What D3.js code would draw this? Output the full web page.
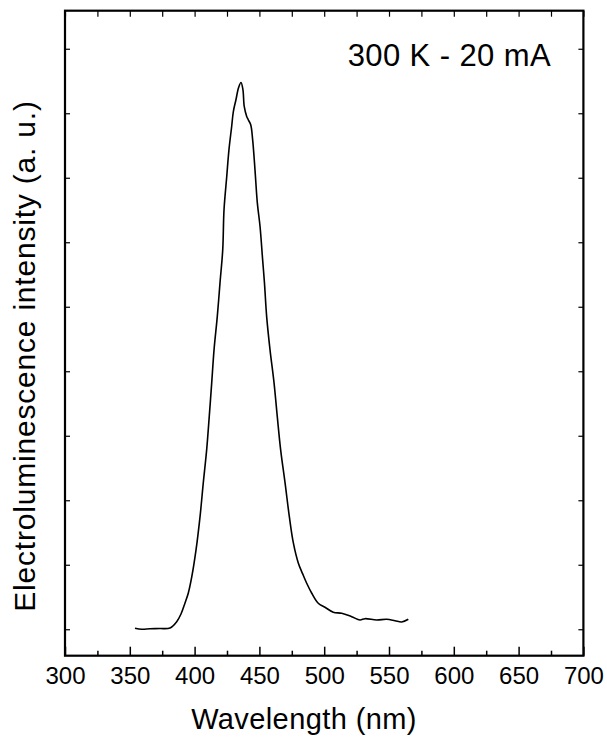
<!DOCTYPE html>
<html><head><meta charset="utf-8">
<script src="https://cdn.jsdelivr.net/npm/d3@7"></script>
<style>html,body{margin:0;padding:0;background:#fff;}svg{display:block;}</style>
</head><body>
<svg id="chart" width="607" height="737"></svg>
<script>
// Data
const wavelength = [354.0,359.2,365.6,373.3,381.0,386.2,389.5,392.6,395.1,397.8,401.1,404.2,406.7,409.3,411.3,413.2,415.0,417.5,419.6,421.7,422.7,424.8,426.5,428.6,429.9,431.9,433.9,435.8,437.3,438.3,440.2,441.4,443.3,444.8,446.6,448.4,450.5,452.5,453.9,455.6,458.2,461.3,463.8,466.4,469.8,473.1,476.2,480.0,483.4,486.5,490.4,495.4,500.6,507.0,513.5,521.2,527.6,531.5,540.5,548.2,554.6,559.8,564.9];
const intensity = [0.016,0.000,0.008,0.011,0.020,0.118,0.237,0.408,0.558,0.811,1.230,1.746,2.269,2.781,3.297,3.820,4.332,4.848,5.371,5.882,6.503,7.019,7.433,7.795,8.027,8.209,8.395,8.477,8.364,8.105,7.950,7.899,7.821,7.588,7.123,6.611,6.244,5.727,5.371,4.848,4.332,3.820,3.297,2.781,2.269,1.746,1.338,1.028,0.858,0.713,0.558,0.403,0.341,0.264,0.248,0.195,0.144,0.164,0.144,0.155,0.133,0.113,0.155];
const xTickLabels = [300,350,400,450,500,550,600,650,700];
const xMinorTicks = [325,375,425,475,525,575,625,675];
const yTicks = [0,1,2,3,4,5,6,7,8,9];
const xTitle = "Wavelength (nm)";
const yTitle = "Electroluminescence intensity (a. u.)";
const annotation = "300 K - 20 mA";

const svg = d3.select("#chart");
const L = 65, R = 583.4, T = 10.7, B = 655.7;
const x = d3.scaleLinear().domain([300,700]).range([L,R]);
const y = d3.scaleLinear().domain([-0.41,9.59]).range([B,T]);
const font = "Arial, 'Liberation Sans', sans-serif";

// bottom axis: major ticks with labels
const bottom = svg.append("g").attr("transform",`translate(0,${B})`)
  .call(d3.axisBottom(x).tickValues(xTickLabels).tickSizeInner(-9).tickSizeOuter(0).tickPadding(11.6).tickFormat(d3.format("d")));
bottom.select(".domain").remove();
bottom.selectAll("line").attr("stroke","#000").attr("stroke-width",1.5);
bottom.selectAll("text").attr("font-family",font).attr("font-size",24).attr("fill","#000");
// bottom minor ticks
svg.append("g").attr("transform",`translate(0,${B})`)
  .call(d3.axisBottom(x).tickValues(xMinorTicks).tickSizeInner(-5).tickSizeOuter(0).tickFormat(""))
  .call(g=>g.select(".domain").remove())
  .selectAll("line").attr("stroke","#000").attr("stroke-width",1.5);
// top ticks
svg.append("g").attr("transform",`translate(0,${T})`)
  .call(d3.axisTop(x).tickValues(xTickLabels.concat(xMinorTicks)).tickSizeInner(-6).tickSizeOuter(0).tickFormat(""))
  .call(g=>g.select(".domain").remove())
  .selectAll("line").attr("stroke","#000").attr("stroke-width",1.2);
// left ticks
svg.append("g").attr("transform",`translate(${L},0)`)
  .call(d3.axisLeft(y).tickValues(yTicks).tickSizeInner(-5).tickSizeOuter(0).tickFormat(""))
  .call(g=>g.select(".domain").remove())
  .selectAll("line").attr("stroke","#000").attr("stroke-width",1.2);
// right ticks
svg.append("g").attr("transform",`translate(${R},0)`)
  .call(d3.axisRight(y).tickValues(yTicks).tickSizeInner(-5).tickSizeOuter(0).tickFormat(""))
  .call(g=>g.select(".domain").remove())
  .selectAll("line").attr("stroke","#000").attr("stroke-width",1.2);

// frame
svg.append("rect").attr("x",L).attr("y",T).attr("width",R-L).attr("height",B-T)
  .attr("fill","none").attr("stroke","#000").attr("stroke-width",2.2);

// curve
const pts = wavelength.map((w,i)=>[w,intensity[i]]);
svg.append("path").datum(pts)
  .attr("fill","none").attr("stroke","#000").attr("stroke-width",1.6).attr("stroke-linejoin","round")
  .attr("d", d3.line().x(d=>x(d[0])).y(d=>y(d[1])).curve(d3.curveCatmullRom.alpha(0.5)));

// annotation
svg.append("text").attr("x",551).attr("y",65.7).attr("text-anchor","end")
  .attr("font-family",font).attr("font-size",31).attr("letter-spacing",0.4).attr("fill","#000").text(annotation);

// axis titles
svg.append("text").attr("x",304).attr("y",729).attr("text-anchor","middle")
  .attr("font-family",font).attr("font-size",29).attr("letter-spacing",0.4).attr("fill","#000").text(xTitle);
svg.append("text").attr("transform",`translate(35,356) rotate(-90)`).attr("text-anchor","middle")
  .attr("font-family",font).attr("font-size",30).attr("letter-spacing",0.8).attr("fill","#000").text(yTitle);
</script>
</body></html>
